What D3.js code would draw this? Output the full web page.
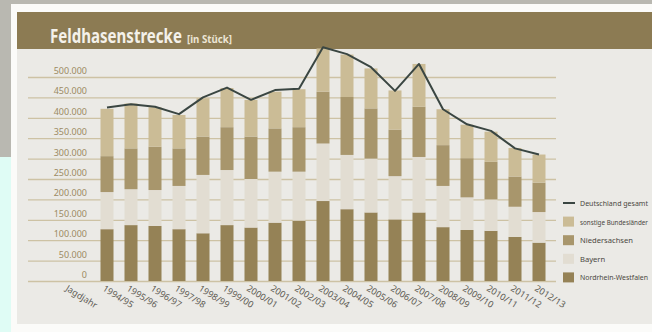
<!DOCTYPE html>
<html><head><meta charset="utf-8">
<script src="https://cdn.jsdelivr.net/npm/d3@7"></script>
<style>
html,body{margin:0;padding:0;background:#dffcf5;}
svg{display:block;}
text{font-family:"Noto Sans","Open Sans",sans-serif;}
</style></head>
<body>
<svg id="c" width="652" height="332"></svg>
<script>
// ---- data (in Stück) ----
const seasons = ["1994/95","1995/96","1996/97","1997/98","1998/99","1999/00","2000/01","2001/02","2002/03","2003/04","2004/05","2005/06","2006/07","2007/08","2008/09","2009/10","2010/11","2011/12","2012/13"];
const nrw        = [127000,137000,135000,127000,117000,137000,131000,143000,148000,196000,176000,168000,151000,168000,132000,125000,123000,108000, 94000];
const bayern     = [ 91000, 88000, 88000,106000,143000,135000,119000,125000,120000,141000,133000,132000,106000,136000,101000, 80000, 77000, 74000, 75000];
const niedersachsen = [ 88000,100000,106000, 92000, 94000,105000,104000,106000,109000,127000,142000,123000,114000,123000,100000, 96000, 92000, 74000, 72000];
const sonstige   = [116000,110000, 97000, 82000, 94000, 96000, 90000, 90000, 93000,106000,104000, 98000, 96000,105000, 88000, 82000, 74000, 70000, 69000];
const deutschland = [425000,433000,427000,409000,450000,474000,444000,468000,471000,573000,556000,524000,466000,532000,421000,384000,368000,325000,310000];
const yTicks = [0,50000,100000,150000,200000,250000,300000,350000,400000,450000,500000];
const seriesNames = ["Nordrhein-Westfalen","Bayern","Niedersachsen","sonstige Bundesländer"];
const lineName = "Deutschland gesamt";
const titleText = "Feldhasenstrecke";
const unitText = "[in Stück]";
const xAxisTitle = "Jagdjahr";

const colors = {"Nordrhein-Westfalen":"#958256","Bayern":"#e2ddd2","Niedersachsen":"#a8966c","sonstige Bundesländer":"#cbbc96"};

const svg = d3.select("#c");

// backgrounds
svg.append("rect").attr("x",0).attr("y",0).attr("width",652).attr("height",332).attr("fill","#dffcf5");
svg.append("rect").attr("x",0).attr("y",0).attr("width",12).attr("height",157).attr("fill","#b9b8b1");
svg.append("rect").attr("x",0).attr("y",0).attr("width",652).attr("height",4).attr("fill","#b9b8b1");
svg.append("rect").attr("x",11).attr("y",4).attr("width",641).attr("height",328).attr("fill","#fbfbf9");
svg.append("rect").attr("x",17).attr("y",12).attr("width",635).attr("height",312).attr("fill","#ebeae6");
svg.append("rect").attr("x",17).attr("y",12).attr("width",635).attr("height",37).attr("fill","#8c7b53");

// helper: condense text horizontally to a target width
function condense(t, x0, y0, target){
  const w = t.node().getComputedTextLength();
  const s = w > 0 ? Math.min(1, target / w) : 1;
  t.attr("transform", `translate(${x0},${y0}) scale(${s},1)`);
}

// title
const tt = svg.append("text").attr("x",0).attr("y",0).attr("fill","#f4f1ea")
  .attr("font-size",20).attr("font-weight","bold").text(titleText);
condense(tt,50,43,132);
const ut = svg.append("text").attr("x",0).attr("y",0).attr("fill","#ece6d6")
  .attr("font-size",10).attr("font-weight","bold").text(unitText);
condense(ut,187,43,45);

// scales
const x = d3.scaleBand().domain(seasons).range([95,551]).paddingInner(0.458).paddingOuter(0.229);
const y = d3.scaleLinear().domain([0,500000]).range([281,77]);

// gridlines
const grid = svg.append("g").attr("transform","translate(28,0)")
  .call(d3.axisRight(y).tickValues(yTicks).tickSize(528).tickFormat(""));
grid.select(".domain").remove();
grid.selectAll("line").attr("stroke","#cdc2a4").attr("stroke-width",1.3);

// y labels
const loc = d3.formatLocale({decimal:",",thousands:".",grouping:[3],currency:["","€"]});
const fmt = loc.format(",d");
const yl = svg.append("g").attr("transform","translate(87,0)")
  .call(d3.axisLeft(y).tickValues(yTicks).tickSize(0).tickPadding(0).tickFormat(fmt));
yl.select(".domain").remove();
yl.selectAll("text").attr("fill","#9c8b63").attr("font-size",9).attr("dy","-3.5")
  .style("font-family","'Noto Sans',sans-serif");

// stacked bars
const table = seasons.map((s,i)=>({season:s,"Nordrhein-Westfalen":nrw[i],"Bayern":bayern[i],"Niedersachsen":niedersachsen[i],"sonstige Bundesländer":sonstige[i]}));
const stack = d3.stack().keys(seriesNames)(table);
svg.append("g").selectAll("g").data(stack).join("g").attr("fill",d=>colors[d.key])
  .selectAll("rect").data(d=>d).join("rect")
  .attr("x",d=>x(d.data.season)).attr("width",x.bandwidth())
  .attr("y",d=>y(d[1])).attr("height",d=>y(d[0])-y(d[1]));

// line
const line = d3.line().x((d,i)=>x(seasons[i])+x.bandwidth()/2).y(d=>y(d));
svg.append("path").datum(deutschland).attr("d",line).attr("fill","none")
  .attr("stroke","#3a4642").attr("stroke-width",2).attr("stroke-linejoin","round");

// x axis labels
const xa = svg.append("g").attr("transform","translate(0,283)")
  .call(d3.axisBottom(x).tickSize(0).tickPadding(0));
xa.select(".domain").remove();
xa.selectAll("text").attr("fill","#5f5c55").attr("font-size",9)
  .attr("text-anchor","start").attr("dy",0).attr("y",0)
  .attr("transform","translate(-5,7) rotate(32)");
svg.append("text").attr("fill","#5f5c55").attr("font-size",9)
  .attr("transform","translate(65,290) rotate(32)").text(xAxisTitle);

// legend
const legendItems = [{name:lineName,type:"line"}].concat(seriesNames.slice().reverse().map(n=>({name:n,type:"rect"})));
const lg = svg.append("g").attr("transform","translate(563,203)");
legendItems.forEach((it,i)=>{
  const g = lg.append("g").attr("transform",`translate(0,${i*18.6})`);
  if(it.type==="line"){
    g.append("line").attr("x1",0).attr("x2",12).attr("y1",0).attr("y2",0).attr("stroke","#3a4642").attr("stroke-width",2);
  } else {
    g.append("rect").attr("x",0).attr("y",-5).attr("width",11).attr("height",10).attr("fill",colors[it.name]);
  }
  const t = g.append("text").attr("x",0).attr("y",0).attr("font-size",7.6).attr("fill","#4a473f").text(it.name);
  const w = t.node().getComputedTextLength();
  const s = w > 68 ? 68 / w : 1;
  t.attr("transform",`translate(17,3) scale(${s},1)`);
});
</script>
</body></html>
